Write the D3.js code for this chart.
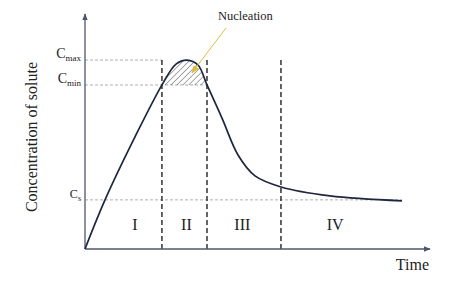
<!DOCTYPE html>
<html lang="en">
<head>
  <meta charset="UTF-8">
  <title>Concentration of solute</title>
  <script src="https://cdn.jsdelivr.net/npm/d3@7.6.1/dist/d3.min.js"></script>
  <style>
    body { margin: 0; background: #fff; }
    svg { display: block; }
    svg text { font-family: "Liberation Serif", "Times New Roman", Times, "DejaVu Serif", serif; }
  </style>
</head>
<body>
  <div id="svg"></div>
  <script>
    const width = 450
    const height = 281

    // curve (time in arbitrary units, concentration 0..1)
    const time = [0, 0.58, 1.449, 2.261, 2.638, 2.957, 3.275, 3.536, 3.971, 4.435, 4.928, 5.681, 7.101, 9.188]
    const conc = [0, 0.209, 0.477, 0.706, 0.787, 0.804, 0.783, 0.698, 0.557, 0.400, 0.311, 0.264, 0.226, 0.205]

    const levelNames = ['max', 'min', 's']
    const levelValues = [0.804, 0.698, 0.209]
    const levelEnds = [2.23, 3.536, 9.188]

    const stageBounds = [2.23, 3.536, 5.68]
    const stageLabels = ['I', 'II', 'III', 'IV']
    const stageCenters = [1.45, 2.94, 4.56, 7.25]

    const x = d3.scaleLinear().domain([0, 10]).range([85, 430])
    const y = d3.scaleLinear().domain([0, 1]).range([249, 14])
    const curve = d3.curveCatmullRom.alpha(0.5)

    const svg = d3.select('#svg').append('svg')
      .attr('width', width)
      .attr('height', height)

    const defs = svg.append('defs')
    defs.append('marker')
      .attr('id', 'arr')
      .attr('viewBox', '0 0 10 10')
      .attr('refX', 9).attr('refY', 5)
      .attr('markerWidth', 7).attr('markerHeight', 7)
      .attr('markerUnits', 'userSpaceOnUse')
      .attr('orient', 'auto')
      .append('path').attr('d', 'M0,1 L10,5 L0,9 Z').attr('fill', '#50566a')
    defs.append('marker')
      .attr('id', 'gold')
      .attr('viewBox', '0 0 10 10')
      .attr('refX', 9).attr('refY', 5)
      .attr('markerWidth', 8).attr('markerHeight', 8)
      .attr('markerUnits', 'userSpaceOnUse')
      .attr('orient', 'auto')
      .append('path').attr('d', 'M0,1 L10,5 L0,9 Z').attr('fill', '#e2bb3c')

    const pat = defs.append('pattern')
      .attr('id', 'hatch')
      .attr('patternUnits', 'userSpaceOnUse')
      .attr('width', 4.2).attr('height', 4.2)
      .attr('patternTransform', 'rotate(45)')
    pat.append('line')
      .attr('x1', 0).attr('y1', 0).attr('x2', 0).attr('y2', 4.2)
      .attr('stroke', '#444').attr('stroke-width', 0.9)

    defs.append('clipPath').attr('id', 'above')
      .append('rect')
      .attr('x', x(stageBounds[0])).attr('y', 0)
      .attr('width', x(stageBounds[1]) - x(stageBounds[0]))
      .attr('height', y(levelValues[1]))

    const pts = time.map((t, i) => [t, conc[i]])

    // reference levels
    svg.selectAll('.level').data(levelValues)
      .enter().append('line')
      .attr('x1', x(0))
      .attr('x2', (d, i) => x(levelEnds[i]))
      .attr('y1', d => y(d)).attr('y2', d => y(d))
      .attr('stroke', '#9a9a9a')
      .attr('stroke-width', 0.8)
      .attr('stroke-dasharray', '3,2')

    // hatched nucleation zone
    svg.append('path')
      .datum(pts)
      .attr('clip-path', 'url(#above)')
      .attr('fill', 'url(#hatch)')
      .attr('d', d3.area()
        .x(d => x(d[0]))
        .y0(y(levelValues[1]))
        .y1(d => y(d[1]))
        .curve(curve))

    // stage boundaries
    svg.selectAll('.stage').data(stageBounds)
      .enter().append('line')
      .attr('x1', d => x(d)).attr('x2', d => x(d))
      .attr('y1', y(levelValues[0])).attr('y2', y(0))
      .attr('stroke', '#222')
      .attr('stroke-width', 1.4)
      .attr('stroke-dasharray', '5,3')

    // axes
    svg.append('line')
      .attr('x1', x(0)).attr('y1', y(0)).attr('x2', x(0)).attr('y2', y(1))
      .attr('stroke', '#50566a').attr('stroke-width', 1.3)
      .attr('marker-end', 'url(#arr)')
    svg.append('line')
      .attr('x1', x(0)).attr('y1', y(0)).attr('x2', x(10)).attr('y2', y(0))
      .attr('stroke', '#50566a').attr('stroke-width', 1.3)
      .attr('marker-end', 'url(#arr)')

    // concentration curve
    svg.append('path')
      .datum(pts)
      .attr('fill', 'none')
      .attr('stroke', '#1e2640')
      .attr('stroke-width', 1.7)
      .attr('d', d3.line()
        .x(d => x(d[0]))
        .y(d => y(d[1]))
        .curve(curve))

    // level labels
    const lab = svg.selectAll('.lab').data(levelValues)
      .enter().append('text')
      .attr('x', 81)
      .attr('y', d => y(d) - 2)
      .attr('text-anchor', 'end')
      .attr('fill', '#222')
      .attr('font-size', (d, i) => i === 2 ? 12 : 14)
    lab.append('tspan').text('C')
    lab.append('tspan')
      .attr('font-size', (d, i) => i === 2 ? 8 : 9)
      .attr('dy', 3)
      .text((d, i) => levelNames[i])

    // stage numerals
    svg.selectAll('.num').data(stageLabels)
      .enter().append('text')
      .attr('x', (d, i) => x(stageCenters[i]))
      .attr('y', 230)
      .attr('text-anchor', 'middle')
      .attr('font-size', 16)
      .attr('fill', '#222')
      .text(d => d)

    // nucleation callout
    svg.append('line')
      .attr('x1', 226).attr('y1', 28)
      .attr('x2', x(3.1)).attr('y2', y(0.75))
      .attr('stroke', '#e2bb3c').attr('stroke-width', 1)
      .attr('marker-end', 'url(#gold)')
    svg.append('text')
      .attr('x', 218).attr('y', 20)
      .attr('font-size', 12.5)
      .attr('fill', '#222')
      .text('Nucleation')

    // axis titles
    svg.append('text')
      .attr('x', 429).attr('y', 270)
      .attr('text-anchor', 'end')
      .attr('font-size', 16)
      .attr('fill', '#222')
      .text('Time')
    svg.append('text')
      .attr('transform', 'translate(37,137) rotate(-90)')
      .attr('text-anchor', 'middle')
      .attr('font-size', 16)
      .attr('fill', '#222')
      .text('Concentration of solute')
  </script>
</body>
</html>
